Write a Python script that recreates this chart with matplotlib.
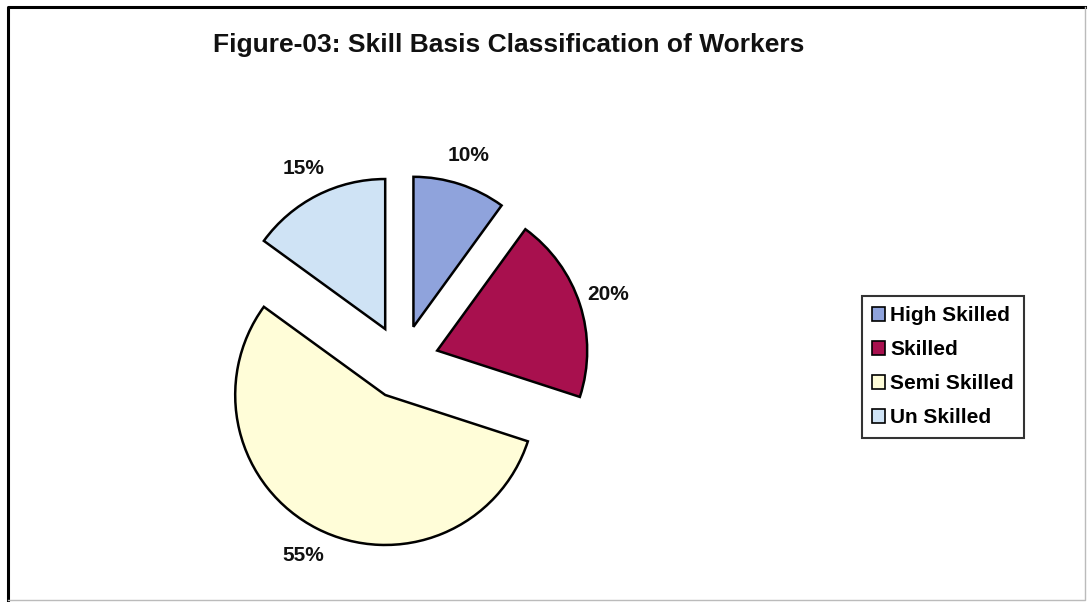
import matplotlib.pyplot as plt
from matplotlib.lines import Line2D

categories = ["High Skilled", "Skilled", "Semi Skilled", "Un Skilled"]
shares = [10, 20, 55, 15]
colors = ["#8fa3dc", "#a8104e", "#fffdd8", "#cfe3f5"]

plt.rcParams["font.family"] = ["Liberation Sans", "DejaVu Sans"]

fig = plt.figure(figsize=(10.88, 6.02), dpi=100)
ax = fig.add_axes([0, 0, 1, 1])

# outer frame of the chart area
ax.add_line(Line2D([8, 8, 1085], [2, 595, 595], color="black", lw=2.2))
ax.add_line(Line2D([1085, 1085, 8], [595, 2, 2], color="#bbbbbb", lw=1.0))

wedges, texts, autotexts = ax.pie(
    shares,
    colors=colors,
    explode=[37] * len(shares),
    center=(402, 240),
    radius=150,
    startangle=90,
    counterclock=False,
    autopct="%d%%",
    pctdistance=1.2,
    wedgeprops=dict(edgecolor="black", linewidth=1.8),
    textprops=dict(fontsize=15, fontweight="bold", color="#111111"),
    frame=True,
)
ax.set_xlim(0, 1088)
ax.set_ylim(0, 602)
ax.set_aspect("equal")
ax.axis("off")

ax.text(509, 557, "Figure-03: Skill Basis Classification of Workers",
        ha="center", va="center", fontsize=19, fontweight="bold", color="#111111")

leg = ax.legend(wedges, categories, loc="upper left",
                bbox_to_anchor=(862 / 1088, 1 - 296 / 602),
                prop=dict(size=15, weight="bold"),
                frameon=True, fancybox=False, edgecolor="black",
                handlelength=0.6, handleheight=0.6, handletextpad=0.25,
                labelspacing=0.72, borderpad=0.5, borderaxespad=0)
leg.get_frame().set_linewidth(1.5)
for h in leg.legend_handles:
    h.set_linewidth(1.2)

fig.savefig("out.png", dpi=100)
